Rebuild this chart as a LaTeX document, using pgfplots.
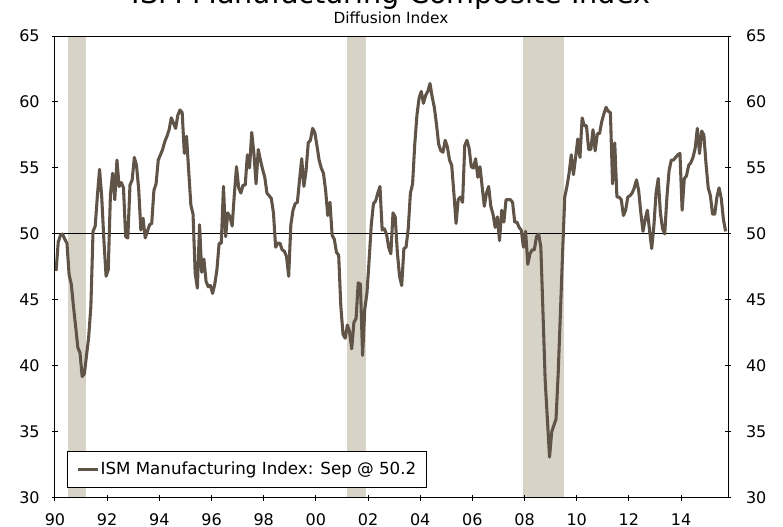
\documentclass[border=0pt]{standalone}
\usepackage{fontspec}
\setmainfont{DejaVu Sans}
\usepackage{pgfplots}
\pgfplotsset{compat=1.18}
\usepackage{pgfplotstable}

\definecolor{ismline}{RGB}{96,84,72}
\definecolor{recess}{RGB}{215,211,199}

% monthly ISM index, Jan 1990 .. Sep 2015 (one row per month)
\pgfplotstableread[row sep=\\]{
v\\
47.2\\ 49.4\\ 49.9\\ 50.0\\ 49.6\\ 49.3\\ 46.9\\ 46.2\\ 44.5\\ 43.0\\ 41.4\\ 41.0\\ % 1990
39.2\\ 39.4\\ 40.8\\ 42.2\\ 44.5\\ 50.2\\ 50.6\\ 52.9\\ 54.9\\ 52.8\\ 49.5\\ 46.8\\ % 1991
47.3\\ 53.0\\ 54.6\\ 52.6\\ 55.6\\ 53.6\\ 53.9\\ 53.5\\ 49.8\\ 49.7\\ 53.7\\ 54.1\\ % 1992
55.8\\ 55.2\\ 53.4\\ 50.3\\ 51.2\\ 49.7\\ 50.2\\ 50.7\\ 50.8\\ 53.3\\ 53.8\\ 55.6\\ % 1993
56.0\\ 56.4\\ 57.0\\ 57.4\\ 57.9\\ 58.8\\ 58.4\\ 58.0\\ 59.0\\ 59.4\\ 59.2\\ 56.1\\ % 1994
57.4\\ 54.8\\ 52.2\\ 51.5\\ 47.0\\ 45.9\\ 50.7\\ 47.1\\ 48.1\\ 46.4\\ 46.0\\ 46.1\\ % 1995
45.5\\ 46.2\\ 47.3\\ 49.3\\ 49.3\\ 53.6\\ 49.8\\ 51.6\\ 51.3\\ 50.6\\ 53.0\\ 55.1\\ % 1996
53.5\\ 53.1\\ 53.7\\ 53.7\\ 56.0\\ 55.0\\ 57.7\\ 56.1\\ 53.8\\ 56.4\\ 55.6\\ 54.9\\ % 1997
54.3\\ 53.1\\ 52.9\\ 52.7\\ 51.6\\ 49.0\\ 49.3\\ 49.3\\ 48.8\\ 48.7\\ 48.3\\ 46.8\\ % 1998
50.7\\ 51.8\\ 52.3\\ 52.4\\ 54.1\\ 55.7\\ 53.6\\ 54.8\\ 56.9\\ 57.1\\ 58.0\\ 57.7\\ % 1999
56.7\\ 55.6\\ 55.0\\ 54.6\\ 53.3\\ 51.4\\ 52.4\\ 49.9\\ 49.6\\ 48.6\\ 48.4\\ 44.5\\ % 2000
42.4\\ 42.1\\ 43.1\\ 42.6\\ 41.3\\ 43.3\\ 43.6\\ 46.3\\ 46.2\\ 40.8\\ 44.3\\ 45.5\\ % 2001
48.0\\ 50.7\\ 52.3\\ 52.5\\ 53.1\\ 53.6\\ 50.3\\ 50.4\\ 50.0\\ 49.0\\ 48.5\\ 51.6\\ % 2002
51.3\\ 48.6\\ 46.8\\ 46.1\\ 48.9\\ 49.0\\ 50.4\\ 53.1\\ 53.8\\ 56.8\\ 59.0\\ 60.3\\ % 2003
60.8\\ 59.9\\ 60.5\\ 60.8\\ 61.4\\ 60.4\\ 59.6\\ 58.3\\ 56.8\\ 56.3\\ 56.2\\ 57.1\\ % 2004
56.6\\ 55.6\\ 55.2\\ 53.1\\ 50.8\\ 52.6\\ 52.8\\ 52.4\\ 56.7\\ 57.1\\ 56.5\\ 55.1\\ % 2005
55.0\\ 55.7\\ 54.3\\ 55.1\\ 53.6\\ 52.1\\ 53.1\\ 53.6\\ 52.1\\ 51.5\\ 50.5\\ 51.3\\ % 2006
49.5\\ 51.8\\ 50.9\\ 52.6\\ 52.6\\ 52.6\\ 52.4\\ 50.9\\ 50.9\\ 50.5\\ 50.3\\ 49.0\\ % 2007
50.2\\ 47.7\\ 48.5\\ 48.8\\ 48.8\\ 49.8\\ 50.0\\ 49.0\\ 44.0\\ 38.9\\ 36.0\\ 33.1\\ % 2008
35.0\\ 35.5\\ 36.0\\ 39.5\\ 44.0\\ 48.5\\ 52.8\\ 53.6\\ 54.6\\ 56.0\\ 54.5\\ 55.8\\ % 2009
57.2\\ 55.8\\ 58.8\\ 58.2\\ 58.2\\ 56.4\\ 56.4\\ 57.9\\ 56.3\\ 57.6\\ 57.6\\ 58.5\\ % 2010
59.1\\ 59.6\\ 59.3\\ 59.2\\ 53.8\\ 56.9\\ 52.8\\ 52.8\\ 52.6\\ 51.4\\ 51.8\\ 52.8\\ % 2011
52.9\\ 53.1\\ 53.5\\ 54.1\\ 53.3\\ 51.6\\ 50.2\\ 51.1\\ 51.8\\ 50.3\\ 48.9\\ 50.6\\ % 2012
53.1\\ 54.2\\ 51.6\\ 50.4\\ 50.0\\ 52.8\\ 54.8\\ 55.6\\ 55.6\\ 55.8\\ 56.0\\ 56.1\\ % 2013
51.8\\ 54.2\\ 54.4\\ 55.2\\ 55.4\\ 55.8\\ 56.5\\ 58.0\\ 56.1\\ 57.8\\ 57.5\\ 55.3\\ % 2014
53.5\\ 52.9\\ 51.5\\ 51.5\\ 52.8\\ 53.5\\ 52.7\\ 51.1\\ 50.2\\ % 2015
}\ism

\begin{document}
\begin{tikzpicture}
\pgfplotsset{
  ismbase/.style={
    at={(41.25pt,-373.5pt)}, anchor=south west,
    scale only axis, width=504.75pt, height=346.5pt,
    xmin=1990, xmax=2015.8, ymin=30, ymax=65,
    ytick={30,35,...,65},
    tick label style={font=\fontsize{12}{14}\selectfont},
    /pgf/number format/assume math mode=true,
    axis line style={line width=0.75pt},
    major tick style={line width=0.75pt, black},
    major tick length=4pt,
  }
}
\begin{axis}[ismbase,
  axis on top,
  xtick={1990,1992,...,2014},
  xticklabels={90,92,94,96,98,00,02,04,06,08,10,12,14},
  xtick pos=bottom, ytick pos=left,
  tick align=center,
  yticklabel style={xshift=-6pt},
  xticklabel style={yshift=-6.5pt},
  legend style={at={(axis description cs:0.018,0.022)}, anchor=south west,
    draw=black, line width=0.75pt, fill=white,
    inner xsep=7pt, inner ysep=6pt,
    font=\fontsize{12.5}{15}\selectfont,
    nodes={inner xsep=0.5pt, inner ysep=2pt}},
  legend image code/.code={\draw[#1] (0pt,0pt) -- (15pt,0pt);},
]
\addplot[fill=recess, draw=none, forget plot] coordinates
  {(1990.51,30) (1990.51,65) (1991.18,65) (1991.18,30)} -- cycle;
\addplot[fill=recess, draw=none, forget plot] coordinates
  {(2001.18,30) (2001.18,65) (2001.91,65) (2001.91,30)} -- cycle;
\addplot[fill=recess, draw=none, forget plot] coordinates
  {(2007.93,30) (2007.93,65) (2009.50,65) (2009.50,30)} -- cycle;
\addplot[black, line width=0.75pt, forget plot] coordinates {(1990,50) (2015.8,50)};
\addplot[ismline, line width=2.3pt, line join=round]
  table[x expr=1990+(\coordindex+0.5)/12, y=v] {\ism};
\addlegendentry{ISM Manufacturing Index: Sep @ 50.2}
\end{axis}
\begin{axis}[ismbase,
  axis y line*=right, hide x axis,
  tick align=center,
  yticklabel style={xshift=8pt},
]
\end{axis}
\node[anchor=base, font=\fontsize{21.5}{24}\selectfont] at (293.25pt,-3pt) {ISM Manufacturing Composite Index};
\node[anchor=base, font=\fontsize{11.5}{13}\selectfont] at (293.25pt,-17.5pt) {Diffusion Index};
\pgfresetboundingbox
\useasboundingbox (0pt,0pt) rectangle (587.25pt,-395.25pt);
\end{tikzpicture}
\end{document}
